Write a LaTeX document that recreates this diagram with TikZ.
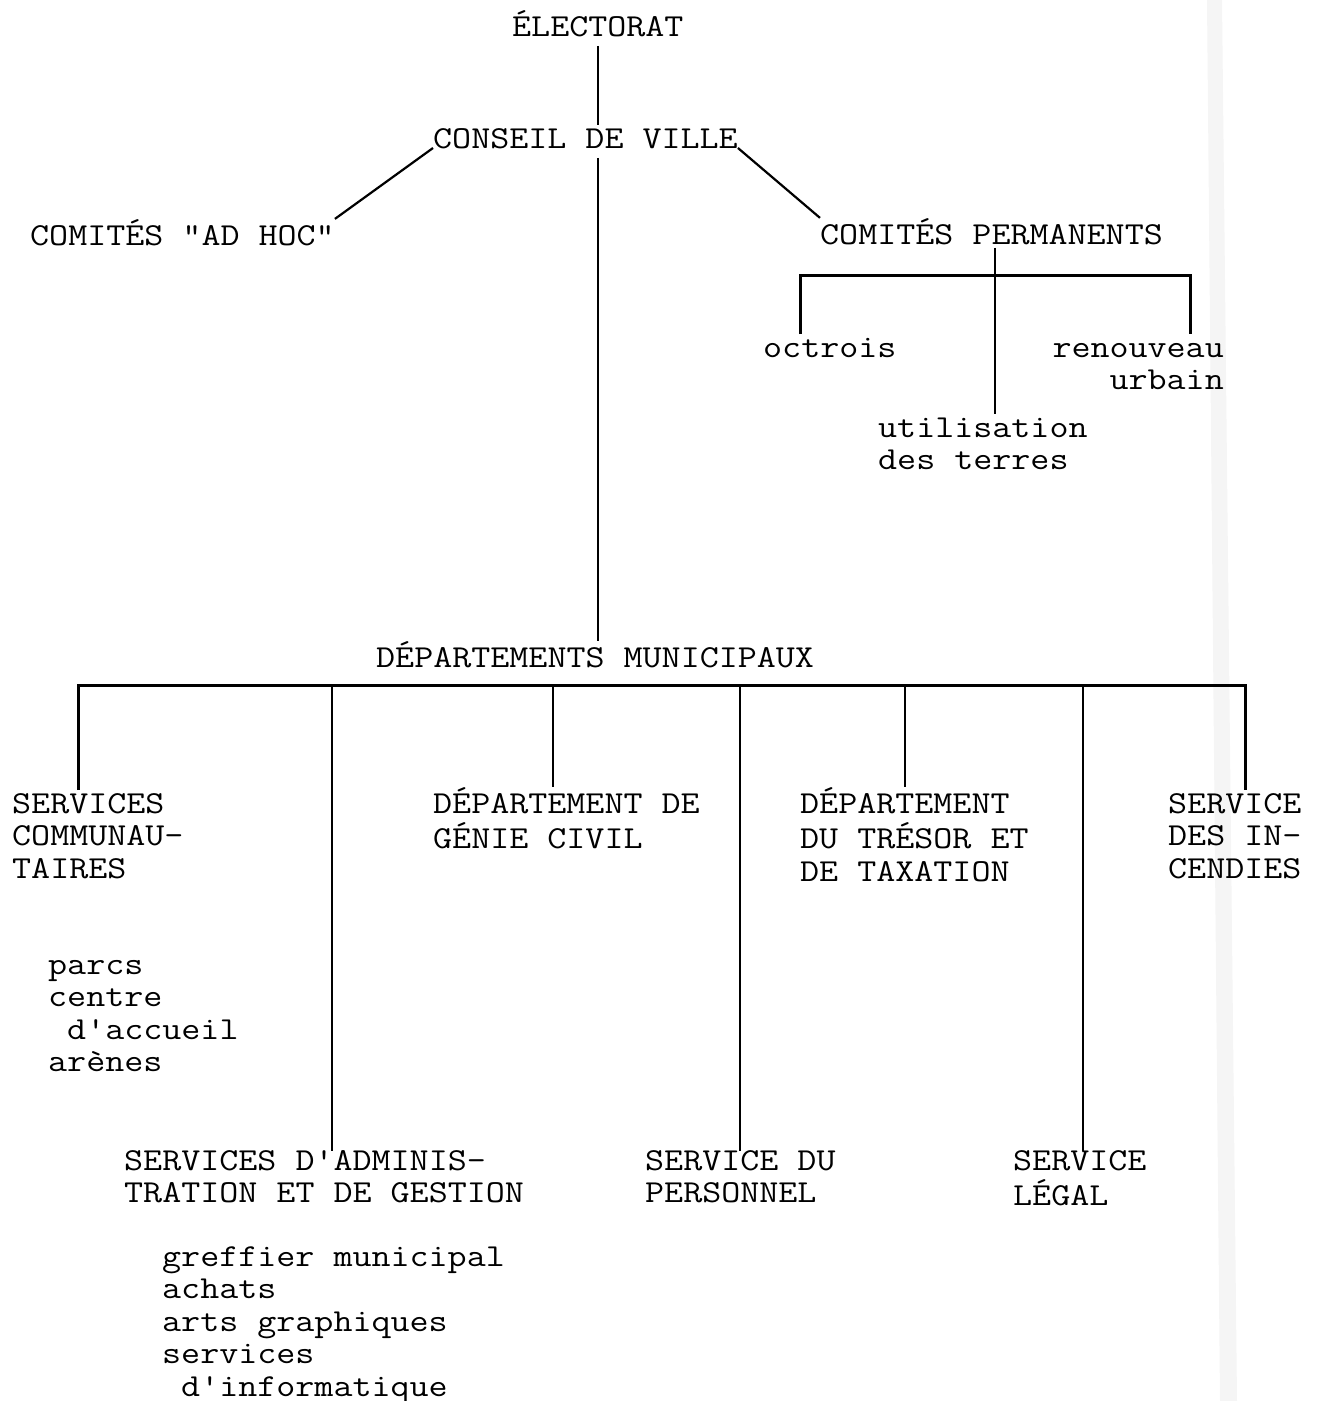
\documentclass[tikz,border=0pt]{standalone}
\usepackage{fontspec}
\usepackage{graphicx}
\newcommand\tw[2][l]{\scalebox{1.155}[1]{\begin{tabular}[t]{@{}#1@{}}#2\end{tabular}}}
\newcommand\apo{\textquotesingle}
\begin{document}
\begin{tikzpicture}[x=1pt,y=-1pt,
  lbl/.style={inner sep=0pt,font=\ttfamily\fontsize{32}{32.5}\selectfont,anchor=base west},
  ln/.style={line width=2.2pt},
  bar/.style={line width=3pt,line join=miter}]
\useasboundingbox (0,0) rectangle (1317,1401);
\fill[black!4] (1207,0) -- (1222,0) -- (1237,1401) -- (1220,1401) -- cycle;
% nodes
\node[lbl] (elect) at (512,36) {\tw{ÉLECTORAT}};
\node[lbl] (conseil) at (433,148) {\tw{CONSEIL DE VILLE}};
\node[lbl] (adhoc) at (30,245) {\tw{COMITÉS \textquotedbl AD HOC\textquotedbl}};
\node[lbl] (cp) at (820,244) {\tw{COMITÉS PERMANENTS}};
\node[lbl] (octrois) at (763,357) {\tw{octrois}};
\node[lbl,anchor=base east] (renouv) at (1224,357) {\tw[r]{renouveau\\urbain}};
\node[lbl] (util) at (878,437) {\tw{utilisation\\des terres}};
\node[lbl] (dm) at (376,667) {\tw{DÉPARTEMENTS MUNICIPAUX}};
\node[lbl] (sc) at (12,813) {\tw{SERVICES\\COMMUNAU-\\TAIRES}};
\node[lbl] (sclist) at (48,974) {\tw{parcs\\centre\\\phantom{c}d\apo accueil\\arènes}};
\node[lbl] (gc) at (433,813) {\tw{DÉPARTEMENT DE\\GÉNIE CIVIL}};
\node[lbl] (tr) at (800,813) {\tw{DÉPARTEMENT\\DU TRÉSOR ET\\DE TAXATION}};
\node[lbl] (inc) at (1168,813) {\tw{SERVICE\\DES IN-\\CENDIES}};
\node[lbl] (adm) at (124,1170) {\tw{SERVICES D\apo ADMINIS-\\TRATION ET DE GESTION}};
\node[lbl] (admlist) at (162,1266) {\tw{greffier municipal\\achats\\arts graphiques\\services\\\phantom{s}d\apo informatique}};
\node[lbl] (pers) at (645,1170) {\tw{SERVICE DU\\PERSONNEL}};
\node[lbl] (legal) at (1013,1170) {\tw{SERVICE\\LÉGAL}};
% helper coordinates
\coordinate (xc) at (598,0);
\coordinate (xp) at (995,0);
\coordinate (pl) at (800,275);
\coordinate (pr) at (1190,275);
\coordinate (b1) at (78,685);
\coordinate (b2) at (332,685);
\coordinate (b3) at (553,685);
\coordinate (b4) at (740,685);
\coordinate (b5) at (905,685);
\coordinate (b6) at (1083,685);
\coordinate (b7) at (1245,685);
% connectors
\draw[ln] (elect.south -| xc) -- (conseil.north -| xc);
\draw[ln] (conseil.south -| xc) -- (dm.north -| xc);
\draw[ln] (conseil.base west) -- (adhoc.north east);
\draw[ln] (conseil.base east) -- (cp.north west);
\draw[ln,shorten <=-6pt] (cp.south -| xp) -- (util.north -| xp);
\draw[bar] (octrois.north -| pl) -- (pl) -- (pr) -- (renouv.north -| pr);
\draw[bar] (sc.north -| b1) -- (b1) -- (b7) -- (inc.north -| b7);
\draw[ln] (b3) -- (gc.north -| b3);
\draw[ln] (b5) -- (tr.north -| b5);
\draw[ln,shorten >=-4pt] (b2) -- (adm.north -| b2);
\draw[ln,shorten >=-4pt] (b4) -- (pers.north -| b4);
\draw[ln,shorten >=-4pt] (b6) -- (legal.north -| b6);
\end{tikzpicture}
\end{document}
